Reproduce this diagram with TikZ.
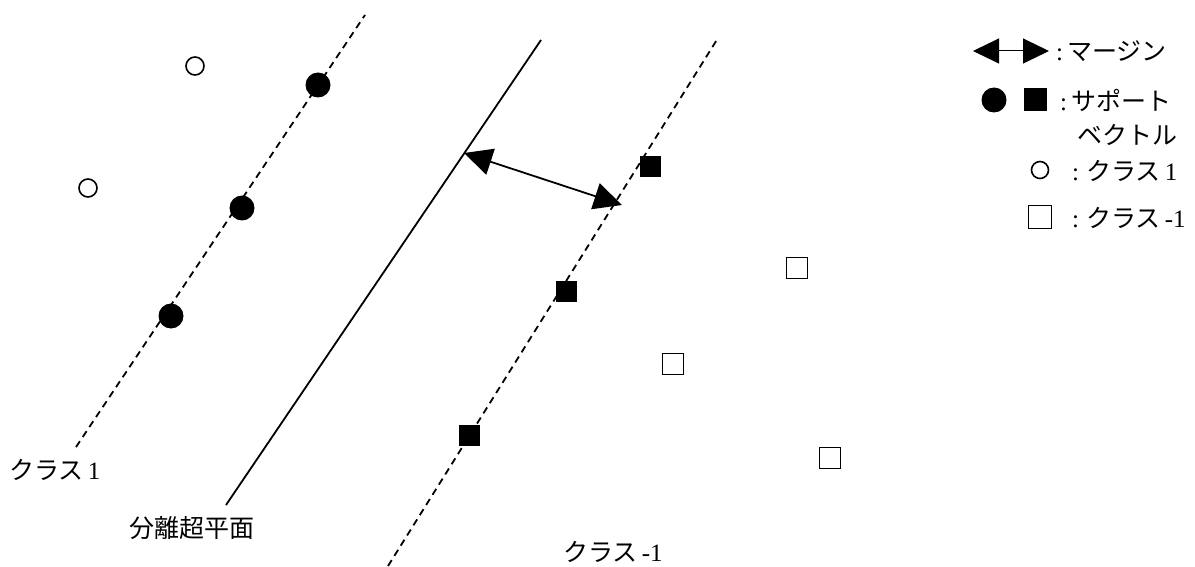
\documentclass[tikz,border=0pt]{standalone}
\usepackage{fontspec}
\setmainfont{Liberation Serif}
\newfontfamily\jp{Noto Sans CJK JP}
\usetikzlibrary{arrows.meta}
\tikzset{
  guide/.style={line width=1.8pt, dash pattern=on 7pt off 5pt},
  plane/.style={line width=1.8pt},
  sv/.style={circle, fill=black, inner sep=0pt, minimum size=25pt},
  svsq/.style={rectangle, fill=black, inner sep=0pt, minimum size=21pt},
  cls/.style={circle, draw=black, line width=1.6pt, inner sep=0pt, minimum size=18pt},
  clsq/.style={rectangle, draw=black, line width=1.4pt, inner sep=0pt, minimum size=21pt},
  lbl/.style={inner sep=0pt, font=\fontsize{25}{28}\selectfont, anchor=west},
  big/.style={{Triangle[length=28pt,width=27pt]}-{Triangle[length=28pt,width=27pt]}, line width=1.8pt}
}
\begin{document}
\begin{tikzpicture}[x=1pt,y=-1pt]
\useasboundingbox (0,0) rectangle (1195,567);

% margin boundaries and separating hyperplane
\coordinate (l1) at (76,447);  \coordinate (l2) at (365,15);
\coordinate (h1) at (226,505); \coordinate (h2) at (541,40);
\coordinate (r1) at (388,566); \coordinate (r2) at (718,38);
\draw[guide] (l1) -- (l2);
\draw[plane] (h1) -- (h2);
\draw[guide] (r1) -- (r2);

% margin arrow
\coordinate (m1) at (464,153);
\coordinate (m2) at (622,205);
\draw[big] (m1) -- (m2);

% class 1 samples
\node[sv] (a1) at (318,85) {};
\node[sv] (a2) at (242,208) {};
\node[sv] (a3) at (171,316) {};
\node[cls] (o1) at (195,66) {};
\node[cls] (o2) at (88,188) {};

% class -1 samples
\node[svsq] (b1) at (650,167) {};
\node[svsq] (b2) at (566,291) {};
\node[svsq] (b3) at (469,435) {};
\node[clsq] (q1) at (797,268) {};
\node[clsq] (q2) at (673,364) {};
\node[clsq] (q3) at (830,458) {};

% captions
\node[lbl] (t1) at (9,470) {{\jp クラス}\,1};
\node[lbl] (t2) at (129,528) {\jp 分離超平面};
\node[lbl] (t3) at (563,552) {{\jp クラス}\,-1};

% legend
\coordinate (k1) at (973,51); \coordinate (k2) at (1049,51);
\draw[{Triangle[length=26pt,width=25pt]}-{Triangle[length=26pt,width=25pt]}, line width=1pt] (k1) -- (k2);
\node[lbl] (e1) at (1056,51) {:\,\jp マージン};
\node[sv] (e2) at (994,100) {};
\node[svsq, minimum size=23pt] (e3) at (1035,100) {};
\node[lbl] (e4) at (1060,100) {:\,\jp サポート};
\node[lbl] (e5) at (1077,135) {\jp ベクトル};
\node[cls, minimum size=17pt] (e6) at (1040,170) {};
\node[lbl] (e7) at (1072,171) {:\;{\jp クラス}\,1};
\node[clsq, minimum size=23pt] (e8) at (1040,217) {};
\node[lbl] (e9) at (1072,218) {:\;{\jp クラス}\,-1};
\end{tikzpicture}
\end{document}
